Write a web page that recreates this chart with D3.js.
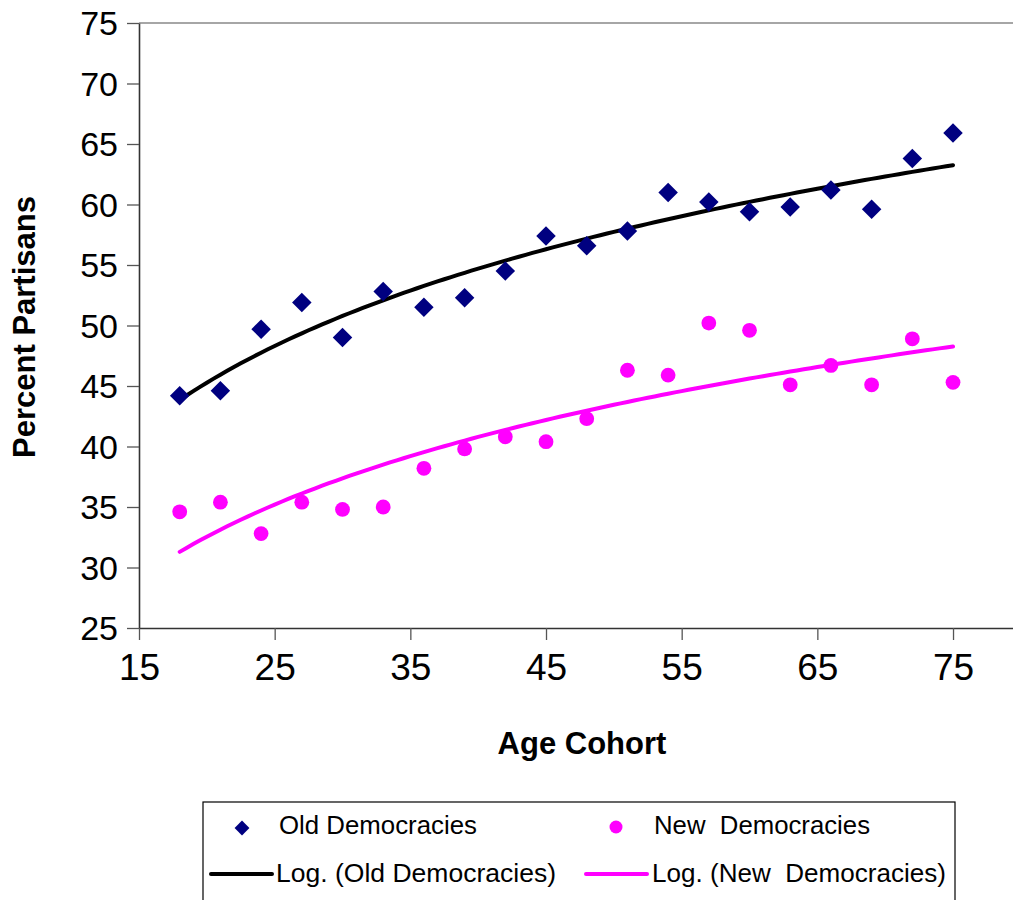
<!DOCTYPE html>
<html>
<head>
<meta charset="utf-8">
<script src="https://cdn.jsdelivr.net/npm/d3@7"></script>
<style>
  html, body { margin: 0; padding: 0; background: #fff; }
  svg { display: block; font-family: "Liberation Sans", Arial, sans-serif; }
</style>
</head>
<body>
<svg id="chart" width="1013" height="900"></svg>
<script>
// ---- data ----
const ages = [18, 21, 24, 27, 30, 33, 36, 39, 42, 45, 48, 51, 54, 57, 60, 63, 66, 69, 72, 75];
const oldDemocracies = [44.2, 44.6, 49.7, 51.9, 49.0, 52.8, 51.5, 52.3, 54.5, 57.4, 56.6, 57.8, 61.0, 60.2, 59.4, 59.8, 61.2, 59.6, 63.8, 65.9];
const newDemocracies = [34.6, 35.4, 32.8, 35.4, 34.8, 35.0, 38.2, 39.8, 40.8, 40.4, 42.3, 46.3, 45.9, 50.2, 49.6, 45.1, 46.7, 45.1, 48.9, 45.3];
const xTicks = [15, 25, 35, 45, 55, 65, 75];
const yTicks = [25, 30, 35, 40, 45, 50, 55, 60, 65, 70, 75];
const seriesNames = ["Old Democracies", "New  Democracies"];
const trendNames = ["Log. (Old Democracies)", "Log. (New  Democracies)"];

(function () {
// ---- layout ----
const svg = d3.select("#chart");
const plotLeft = 139, plotTop = 23, plotBottom = 628;
const x = d3.scaleLinear().domain([15, 85]).range([plotLeft, plotLeft + 70 * 13.567]);
const y = d3.scaleLinear().domain([25, 75]).range([plotBottom, plotTop]);

// log trendline: least squares fit of value on ln(age)
function logFit(xs, ys) {
  const lx = xs.map(Math.log);
  const mx = d3.mean(lx), my = d3.mean(ys);
  let sxy = 0, sxx = 0;
  lx.forEach((v, i) => { sxy += (v - mx) * (ys[i] - my); sxx += (v - mx) * (v - mx); });
  const b = sxy / sxx, a = my - b * mx;
  return t => a + b * Math.log(t);
}
const fitOld = logFit(ages, oldDemocracies);
const fitNew = logFit(ages, newDemocracies);
const trendX = d3.range(ages[0], ages[ages.length - 1] + 0.001, 0.5);

// top border of plot area
svg.append("line")
  .attr("x1", plotLeft).attr("x2", 1013).attr("y1", plotTop).attr("y2", plotTop)
  .attr("stroke", "#888").attr("stroke-width", 1.6);

// y axis
const yAxis = svg.append("g")
  .attr("transform", `translate(${plotLeft},0)`)
  .call(d3.axisLeft(y).tickValues(yTicks).tickSize(12).tickPadding(9).tickSizeOuter(0));
yAxis.select(".domain").attr("stroke", "#333").attr("stroke-width", 1.6);
yAxis.selectAll(".tick line").attr("stroke", "#555").attr("stroke-width", 1.3);
yAxis.selectAll(".tick text")
  .attr("font-size", 34).attr("fill", "#000")
  .attr("font-family", "'Liberation Sans', Arial, sans-serif")
  .attr("dy", "0.35em");

// x axis
const xAxis = svg.append("g")
  .attr("transform", `translate(0,${plotBottom})`)
  .call(d3.axisBottom(x).tickValues(xTicks).tickSize(12).tickPadding(14).tickSizeOuter(0));
xAxis.select(".domain").attr("stroke", "#333").attr("stroke-width", 1.6);
xAxis.selectAll(".tick line").attr("stroke", "#555").attr("stroke-width", 1.3);
xAxis.selectAll(".tick text")
  .attr("font-size", 37).attr("fill", "#000")
  .attr("font-family", "'Liberation Sans', Arial, sans-serif");

// axis titles
svg.append("text")
  .attr("transform", "translate(35,327) rotate(-90)")
  .attr("text-anchor", "middle")
  .attr("font-size", 31).attr("font-weight", "bold")
  .text("Percent Partisans");
svg.append("text")
  .attr("x", 582).attr("y", 754)
  .attr("text-anchor", "middle")
  .attr("font-size", 31).attr("font-weight", "bold")
  .text("Age Cohort");

// trendlines
const line = fn => d3.line().x(d => x(d)).y(d => y(fn(d)));
svg.append("path").datum(trendX)
  .attr("d", line(fitOld)).attr("fill", "none")
  .attr("stroke", "#000").attr("stroke-width", 4).attr("stroke-linecap", "round");
svg.append("path").datum(trendX)
  .attr("d", line(fitNew)).attr("fill", "none")
  .attr("stroke", "#FF00FF").attr("stroke-width", 4).attr("stroke-linecap", "round");

// markers
const diamond = d3.symbol().type(d3.symbolSquare).size(190);
svg.append("g").selectAll("path")
  .data(ages.map((a, i) => [a, oldDemocracies[i]]))
  .join("path")
  .attr("d", diamond)
  .attr("transform", d => `translate(${x(d[0])},${y(d[1])}) rotate(45)`)
  .attr("fill", "#000080");
svg.append("g").selectAll("circle")
  .data(ages.map((a, i) => [a, newDemocracies[i]]))
  .join("circle")
  .attr("cx", d => x(d[0])).attr("cy", d => y(d[1])).attr("r", 7.4)
  .attr("fill", "#FF00FF");

// legend
const lg = svg.append("g");
lg.append("rect")
  .attr("x", 203).attr("y", 802).attr("width", 752).attr("height", 130)
  .attr("fill", "#fff").attr("stroke", "#000").attr("stroke-width", 1.2);
const legendFont = 25;
function legendText(tx, ty, str, len) {
  lg.append("text").attr("x", tx).attr("y", ty).attr("font-size", legendFont)
    .attr("textLength", len).attr("lengthAdjust", "spacingAndGlyphs")
    .style("white-space", "pre")
    .text(str);
}
lg.append("path")
  .attr("d", d3.symbol().type(d3.symbolSquare).size(110))
  .attr("transform", "translate(242,828) rotate(45)")
  .attr("fill", "#000080");
legendText(279, 834, seriesNames[0], 198);
lg.append("circle").attr("cx", 616).attr("cy", 827).attr("r", 6.5).attr("fill", "#FF00FF");
legendText(654, 834, seriesNames[1], 216);
lg.append("line").attr("x1", 211).attr("x2", 272).attr("y1", 874).attr("y2", 874)
  .attr("stroke", "#000").attr("stroke-width", 4).attr("stroke-linecap", "round");
legendText(276, 882, trendNames[0], 280);
lg.append("line").attr("x1", 586).attr("x2", 647).attr("y1", 874).attr("y2", 874)
  .attr("stroke", "#FF00FF").attr("stroke-width", 4).attr("stroke-linecap", "round");
legendText(652, 882, trendNames[1], 294);
})();
</script>
</body>
</html>
